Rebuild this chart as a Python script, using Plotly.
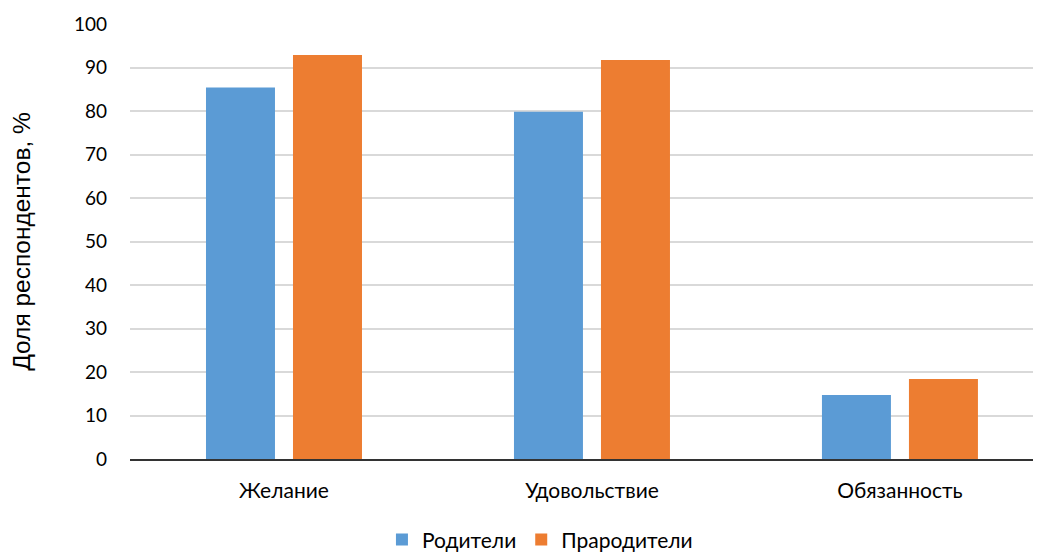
import plotly.graph_objects as go

categories = ["Желание", "Удовольствие", "Обязанность"]
parents = [85.4, 79.8, 14.7]
grandparents = [92.9, 91.7, 18.4]
series_names = ["Родители", "Прародители"]
y_ticks = [0, 10, 20, 30, 40, 50, 60, 70, 80, 90, 100]

tick_font = dict(family="Lato, Open Sans, sans-serif", size=19, color="#000000")
cat_font = dict(family="Lato, Open Sans, sans-serif", size=21, color="#000000")

fig = go.Figure()
fig.add_trace(go.Bar(x=categories, y=parents, name=series_names[0],
                     marker=dict(color="#5B9BD5", line=dict(width=0))))
fig.add_trace(go.Bar(x=categories, y=grandparents, name=series_names[1],
                     marker=dict(color="#ED7D31", line=dict(width=0))))

# page body has an 8px margin, so the figure is sized/offset to compensate
fig.update_layout(
    width=1033, height=545,
    margin=dict(l=122, r=0, t=16, b=94, autoexpand=False),
    paper_bgcolor="white", plot_bgcolor="white",
    barmode="group", bargap=0.435, bargroupgap=0.207,
    showlegend=True,
    legend=dict(orientation="h", x=0.45, xanchor="center", y=-0.186, yanchor="middle",
                font=cat_font, itemwidth=30, traceorder="normal"),
    xaxis=dict(range=[-0.5, 2.458], showgrid=False, showline=True, linecolor="#333333",
               linewidth=1.5, ticks="", tickfont=cat_font, ticklabelstandoff=12),
    yaxis=dict(range=[0, 100], tickvals=y_ticks, showgrid=True, gridcolor="#d9d9d9",
               gridwidth=1.5, zeroline=False, showline=False, ticks="",
               tickfont=tick_font, ticklabelstandoff=22,
               title=dict(text="Доля респондентов, %",
                          font=dict(family="Liberation Sans, Arial, sans-serif", size=24.5, color="#000000"),
                          standoff=38)),
)

fig.write_html("out.html")
